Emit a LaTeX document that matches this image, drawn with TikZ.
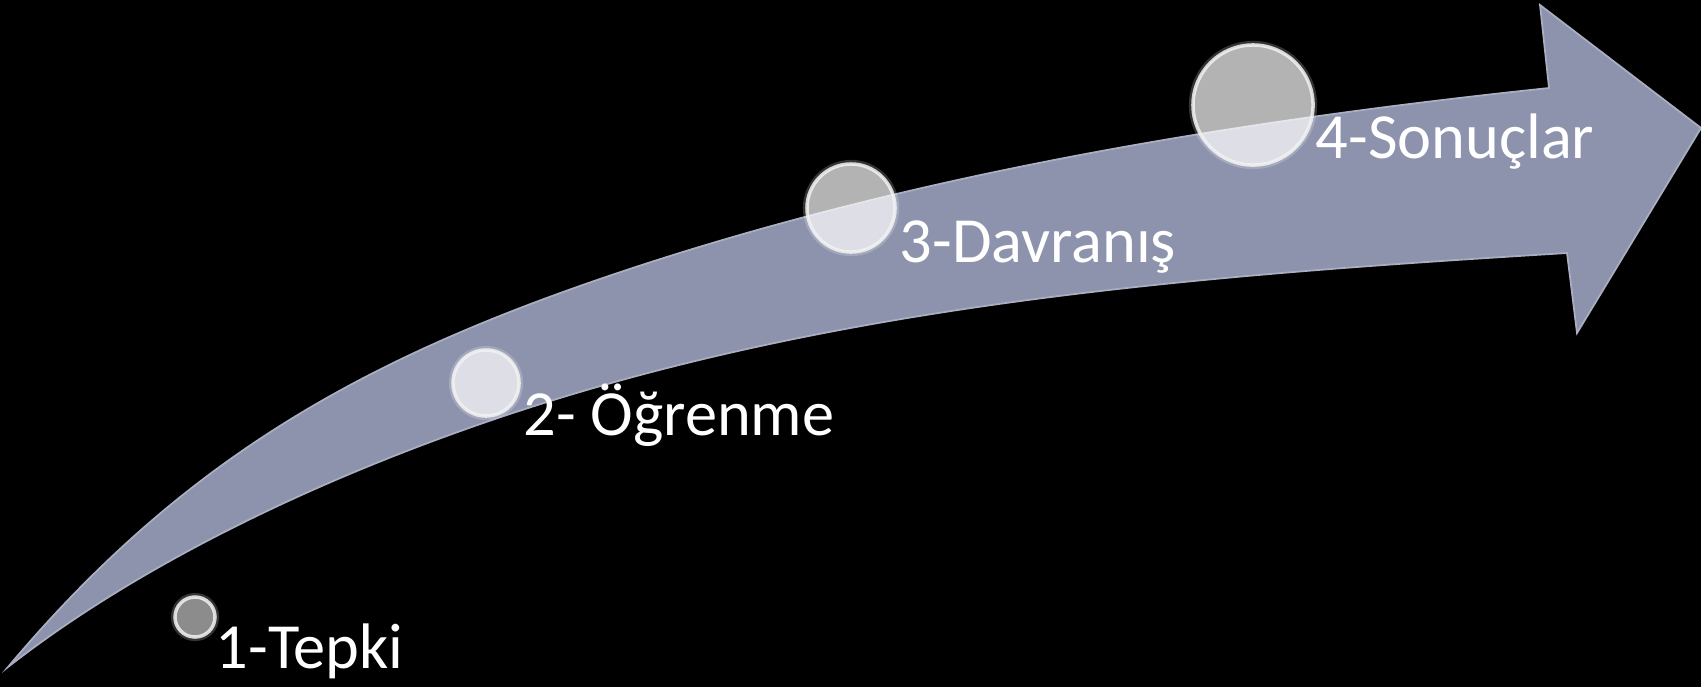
\documentclass[tikz,border=0pt]{standalone}
\usepackage{fontspec}
\setmainfont{Carlito}
\definecolor{bandcol}{RGB}{142,147,173}
\begin{document}
\begin{tikzpicture}[x=0.01cm, y=-0.01cm,
  band/.style={fill=bandcol, draw=bandcol!75!white, line width=0.5pt},
  ball/.style={circle, inner sep=0pt, fill=white, fill opacity=0.7, draw=white!90!gray, draw opacity=0.85, line width=1pt},
  darkball/.style={ball, fill opacity=0.55},
  glow/.style={draw=white, draw opacity=0.2, line width=1.2pt},
  lbl/.style={anchor=base west, inner sep=0pt, text=white, font=\fontsize{18.3pt}{22pt}\selectfont}]
\fill[black] (0,0) rectangle (1701,687);
\useasboundingbox (0,0) rectangle (1701,687);
% curved arrow
\path[band] (8,667) .. controls (182,460) and (360.5,361.5) .. (597,280)
  .. controls (899.7,175.7) and (1231,121.4) .. (1549,88)
  -- (1540,5) -- (1701,128) -- (1577,333) -- (1567,253)
  .. controls (1241.6,272.9) and (910.3,297) .. (597,387)
  .. controls (388.5,447) and (165.6,543.8) .. (8,667) -- cycle;
% glass balls
\node[darkball, minimum size=0.40cm] (c1) at (195,617) {};
\node[ball, minimum size=0.66cm] (c2) at (486,383) {};
\node[ball, minimum size=0.88cm] (c3) at (851,208) {};
\node[ball, minimum size=1.20cm] (c4) at (1253,105) {};
\foreach \c/\r in {c1/22, c2/35, c3/46, c4/62}
  \draw[glow] (\c.center) circle (\r);
% labels
\node[lbl] (t1) at (215,668) {1-Tepki};
\node[lbl] (t2) at (523,435) {2- Öğrenme};
\node[lbl] (t3) at (899,262) {3-Davranış};
\node[lbl] (t4) at (1315,158) {4-Sonuçlar};
\end{tikzpicture}
\end{document}
